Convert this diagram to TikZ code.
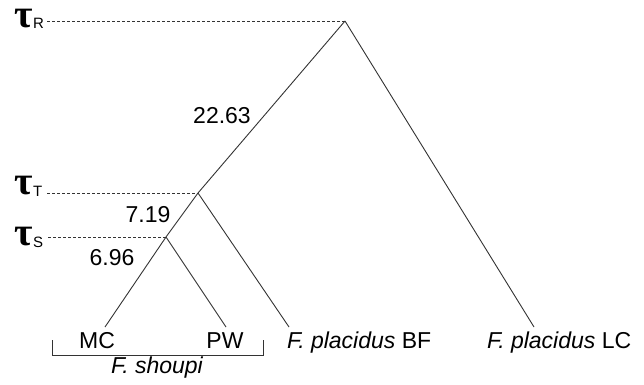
\documentclass[tikz,border=0pt]{standalone}
\usepackage{fontspec}
\setmainfont{Liberation Sans}
\newfontfamily\taufont{Liberation Serif}
\begin{document}
\begin{tikzpicture}[x=1pt,y=-1pt,
  branch/.style={draw=black!80, line width=0.9pt},
  guide/.style={draw=black!80, line width=0.7pt, dash pattern=on 3pt off 2pt},
  lab/.style={font=\fontsize{23}{27}\selectfont, inner sep=0pt, anchor=base},
  num/.style={font=\fontsize{23}{27}\selectfont, inner sep=0pt, anchor=base},
  taus/.style={font=\taufont\bfseries\fontsize{40}{44}\selectfont, inner sep=0pt, anchor=base, text height=14pt, text depth=0pt},
  subs/.style={font=\fontsize{15}{18}\selectfont, inner sep=0pt, anchor=base west}]
\useasboundingbox (0,0) rectangle (644,384);

% tree nodes
\coordinate (R) at (345,21);
\coordinate (T) at (198,193);
\coordinate (S) at (166,237);
\coordinate (mc) at (105,327);
\coordinate (pw) at (226,327);
\coordinate (bf) at (289,327);
\coordinate (lc) at (534,327);

% guide ends
\coordinate (gR) at (47,21);
\coordinate (gT) at (47,193);
\coordinate (gS) at (48,237);

\draw[guide] (gR) -- (R);
\draw[guide] (gT) -- (T);
\draw[guide] (gS) -- (S);

\draw[branch] (R) -- (T) -- (S) -- (mc);
\draw[branch] (S) -- (pw);
\draw[branch] (T) -- (bf);
\draw[branch] (R) -- (lc);

% tau labels
\node[taus] (tR) at (24,27) {τ};
\node[subs] (sR) at (33,28) {R};
\node[taus] (tT) at (24,194) {τ};
\node[subs] (sT) at (33,196) {T};
\node[taus] (tS) at (24,245) {τ};
\node[subs] (sS) at (33,247) {S};

% branch lengths
\node[num] (n1) at (222,123) {22.63};
\node[num] (n2) at (148,222) {7.19};
\node[num] (n3) at (112,265) {6.96};

% leaf labels
\node[lab] (lMC) at (97,348) {MC};
\node[lab] (lPW) at (225,348) {PW};
\node[lab, anchor=base west] (lBF) at (287,348) {\itshape F. placidus\/\upshape{} BF};
\node[lab, anchor=base west] (lLC) at (487,348) {\itshape F. placidus\/\upshape{} LC};

% bracket
\coordinate (b1) at (52,340);
\coordinate (b2) at (52,355);
\coordinate (b3) at (263,355);
\coordinate (b4) at (263,340);
\draw[branch, line width=0.8pt] (b1) -- (b2) -- (b3) -- (b4);
\node[lab] (lFS) at (157,373) {\itshape F. shoupi};
\end{tikzpicture}
\end{document}
